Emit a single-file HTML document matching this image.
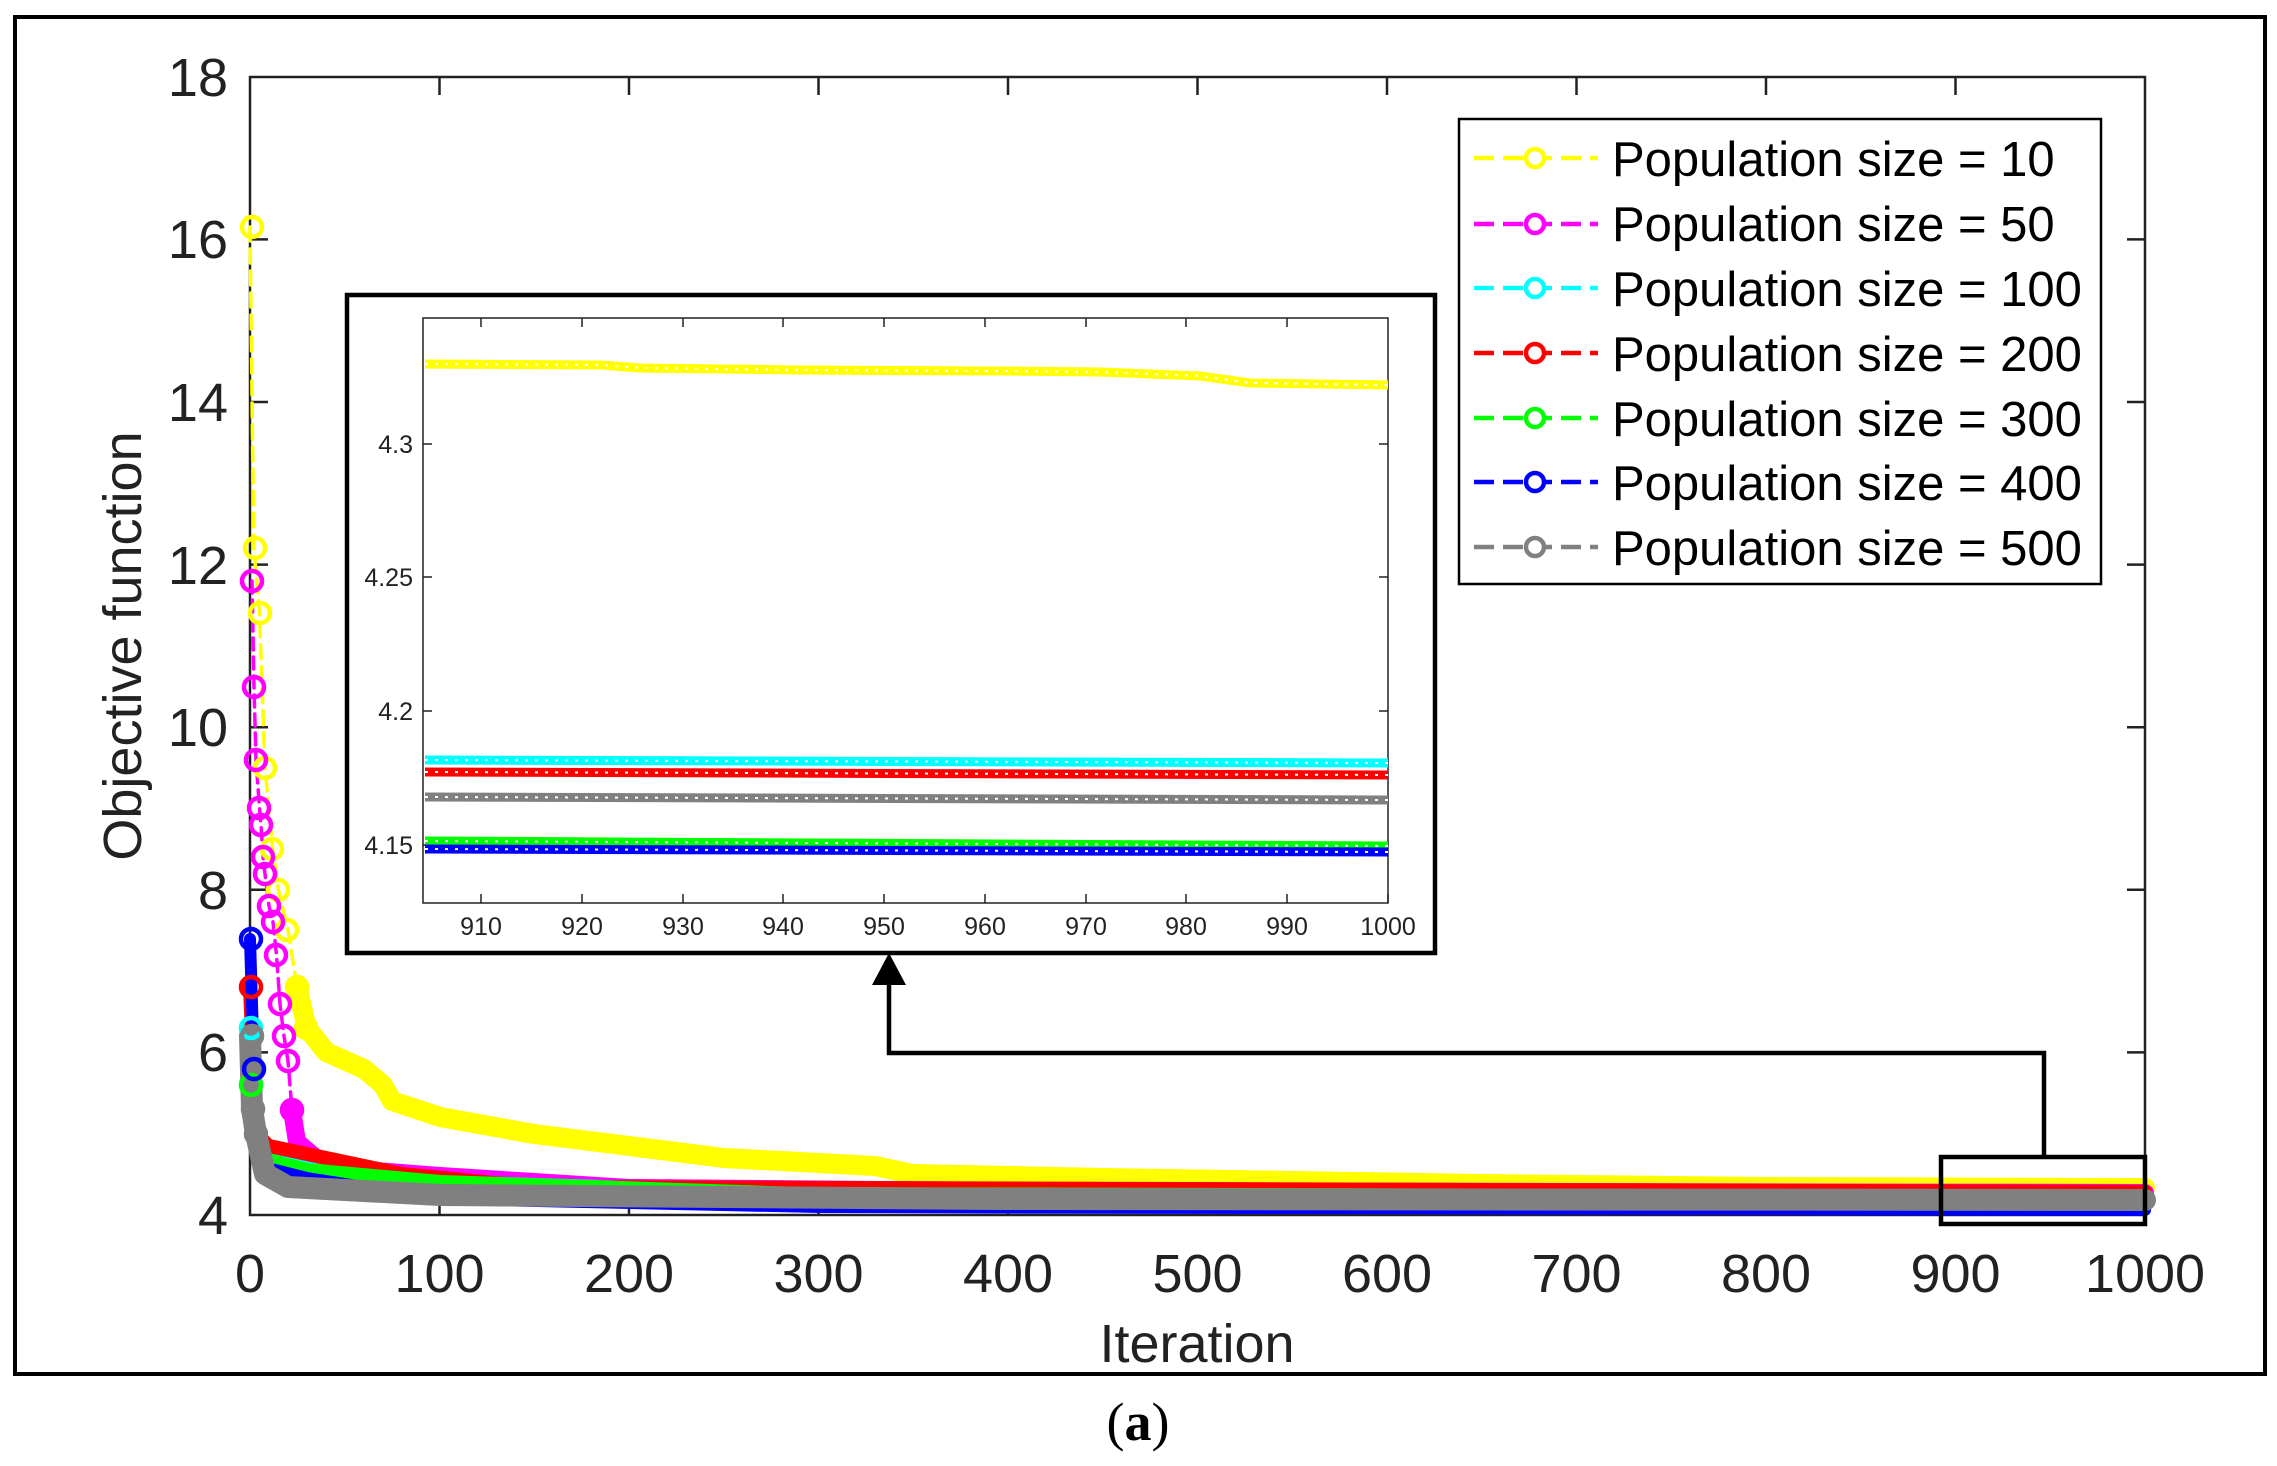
<!DOCTYPE html>
<html><head><meta charset="utf-8"><style>
html,body{margin:0;padding:0;background:#fff;}
svg{display:block;font-family:"Liberation Sans",sans-serif;}
</style></head><body>
<svg width="2277" height="1466" viewBox="0 0 2277 1466" xmlns="http://www.w3.org/2000/svg">
<rect x="0" y="0" width="2277" height="1466" fill="#fff"/>
<rect x="15" y="17" width="2250" height="1357" fill="none" stroke="#000" stroke-width="4"/>
<rect x="250" y="77" width="1895" height="1138" fill="#fff" stroke="#222" stroke-width="2.5"/>
<g stroke="#222" stroke-width="2.5">
<path d="M439.5 1215v-18M629 1215v-18M818.5 1215v-18M1008 1215v-18M1197.5 1215v-18M1387 1215v-18M1576.5 1215v-18M1766 1215v-18M1955.5 1215v-18
M439.5 77v18M629 77v18M818.5 77v18M1008 77v18M1197.5 77v18M1387 77v18M1576.5 77v18M1766 77v18M1955.5 77v18"/>
<path d="M250 1052.4h18M250 889.8h18M250 727.2h18M250 564.6h18M250 402h18M250 239.4h18
M2145 1052.4h-18M2145 889.8h-18M2145 727.2h-18M2145 564.6h-18M2145 402h-18M2145 239.4h-18"/>
</g>
<g font-size="54" fill="#222" text-anchor="end">
<text x="228" y="1234">4</text><text x="228" y="1071">6</text><text x="228" y="909">8</text>
<text x="228" y="746">10</text><text x="228" y="584">12</text><text x="228" y="421">14</text>
<text x="228" y="258">16</text><text x="228" y="96">18</text>
</g>
<g font-size="54" fill="#222" text-anchor="middle">
<text x="250" y="1292">0</text><text x="439.5" y="1292">100</text><text x="629" y="1292">200</text>
<text x="818.5" y="1292">300</text><text x="1008" y="1292">400</text><text x="1197.5" y="1292">500</text>
<text x="1387" y="1292">600</text><text x="1576.5" y="1292">700</text><text x="1766" y="1292">800</text>
<text x="1955.5" y="1292">900</text><text x="2145" y="1292">1000</text>
<text x="1197" y="1362">Iteration</text>
<text transform="translate(141,646) rotate(-90)">Objective function</text>
</g>
<text x="1138" y="1440" font-family="Liberation Serif,serif" font-size="54" text-anchor="middle" fill="#000">(<tspan font-weight="bold">a</tspan>)</text>

<g fill="none" stroke-linejoin="round" stroke-linecap="round">
<path d="M250 227L253.8 548L259.5 613L265 768L272.7 849L278.4 890L288 930L297 987" stroke="#ff0" stroke-width="3.5" stroke-dasharray="14 8"/>
<path d="M297 987L307 1028L326 1052L364 1069L383 1085L392 1101L440 1117L534 1134L629 1146L724 1158L875 1166L913 1174L1103 1178L1292 1181L1482 1184L1766 1187L2145 1188" stroke="#ff0" stroke-width="20"/>
<path d="M252 581L254 687L256 760L259.5 808L261 825L263 857L265 874L269 906L273 922L276.5 955L280 1004L284 1036L288 1061L292 1110" stroke="#f0f" stroke-width="3.5" stroke-dasharray="12 7"/>
<path d="M292 1110L297 1142L316 1158L364 1170L440 1176L534 1182L629 1188L1008 1191L2145 1193" stroke="#f0f" stroke-width="18"/>
<path d="M250 1028L259 1150L300 1165L440 1182L700 1190L2145 1193" stroke="#0ff" stroke-width="14"/>
<path d="M250 987L256 1134L269 1146L326 1158L402 1174L534 1187L2145 1192" stroke="#f00" stroke-width="14"/>
<path d="M250 1085L259 1158L307 1170L440 1182L800 1194L2145 1197" stroke="#0f0" stroke-width="14"/>
<path d="M250 939L254 1069L259 1166L307 1178L440 1199L819 1207L2145 1210" stroke="#00f" stroke-width="12"/>
<path d="M250 1036L252 1109L256 1134L265 1174L288 1187L440 1195L1000 1199L2145 1200" stroke="#808080" stroke-width="22"/>
</g>
<g fill="none" stroke-width="4.5">
<g stroke="#ff0"><circle cx="252" cy="227" r="10"/><circle cx="255" cy="548" r="10"/><circle cx="260" cy="613" r="10"/><circle cx="265" cy="768" r="10"/><circle cx="272" cy="849" r="10"/><circle cx="278" cy="890" r="10"/><circle cx="287" cy="930" r="10"/><circle cx="297" cy="987" r="10"/><circle cx="306" cy="1028" r="10"/></g>
<g stroke="#f0f"><circle cx="252" cy="581" r="10"/><circle cx="254" cy="687" r="10"/><circle cx="256" cy="760" r="10"/><circle cx="259" cy="808" r="10"/><circle cx="261" cy="825" r="10"/><circle cx="263" cy="857" r="10"/><circle cx="265" cy="874" r="10"/><circle cx="269" cy="906" r="10"/><circle cx="273" cy="922" r="10"/><circle cx="276" cy="955" r="10"/><circle cx="280" cy="1004" r="10"/><circle cx="284" cy="1036" r="10"/><circle cx="288" cy="1061" r="10"/><circle cx="292" cy="1110" r="10"/></g>
<circle cx="251" cy="1028" r="10" stroke="#0ff"/>
<circle cx="251" cy="987" r="10" stroke="#f00"/>
<circle cx="251" cy="1085" r="10" stroke="#0f0"/>
<circle cx="251" cy="939" r="10" stroke="#00f"/><circle cx="254" cy="1069" r="10" stroke="#00f"/>
<circle cx="252" cy="1036" r="10" stroke="#808080"/><circle cx="253" cy="1109" r="10" stroke="#808080"/><circle cx="256" cy="1134" r="10" stroke="#808080"/>
</g>

<rect x="1941" y="1157" width="204" height="67" fill="none" stroke="#000" stroke-width="4.5"/>
<path d="M2044 1157V1053H889V976" fill="none" stroke="#000" stroke-width="4.5"/>
<polygon points="889,953 872,985 906,985" fill="#000"/>

<rect x="347" y="295" width="1088" height="658" fill="#fff" stroke="#000" stroke-width="4.5"/>
<rect x="423" y="318" width="965" height="585" fill="#fff" stroke="#222" stroke-width="1.5"/>
<g stroke="#222" stroke-width="1.5">
<path d="M481 903v-9M582 903v-9M683 903v-9M783 903v-9M884 903v-9M985 903v-9M1086 903v-9M1186 903v-9M1287 903v-9M1388 903v-9
M481 318v9M582 318v9M683 318v9M783 318v9M884 318v9M985 318v9M1086 318v9M1186 318v9M1287 318v9
M423 444h9M423 577h9M423 711h9M423 845h9M1388 444h-9M1388 577h-9M1388 711h-9M1388 845h-9"/>
</g>
<g font-size="25" fill="#222" text-anchor="end">
<text x="413" y="453">4.3</text><text x="413" y="586">4.25</text><text x="413" y="720">4.2</text><text x="413" y="854">4.15</text>
</g>
<g font-size="25" fill="#222" text-anchor="middle">
<text x="481" y="935">910</text><text x="582" y="935">920</text><text x="683" y="935">930</text><text x="783" y="935">940</text><text x="884" y="935">950</text><text x="985" y="935">960</text><text x="1086" y="935">970</text><text x="1186" y="935">980</text><text x="1287" y="935">990</text><text x="1388" y="935">1000</text>
</g>
<g fill="none" stroke-width="9">
<path d="M425 364L600 365L640 368L800 370L1000 371L1100 372L1200 376L1250 383L1388 385" stroke="#ff0"/>
<path d="M425 760L1388 763" stroke="#0ff"/>
<path d="M425 772L1388 775" stroke="#f00"/>
<path d="M425 797L1388 800" stroke="#808080"/>
<path d="M425 841L1388 846" stroke="#0f0"/>
<path d="M425 849L1388 852" stroke="#00f"/>
</g>
<g fill="none" stroke="#fff" stroke-width="2" stroke-dasharray="3 7">
<path d="M425 364L600 365L640 368L800 370L1000 371L1100 372L1200 376L1250 383L1388 385"/>
<path d="M425 760L1388 763"/><path d="M425 772L1388 775"/><path d="M425 797L1388 800"/>
<path d="M425 841L1388 846"/><path d="M425 849L1388 852"/>
</g>

<rect x="1459" y="119" width="642" height="465" fill="#fff" stroke="#000" stroke-width="2.5"/>
<g font-size="49" fill="#000">
<text x="1612" y="176">Population size = 10</text>
<text x="1612" y="241">Population size = 50</text>
<text x="1612" y="306">Population size = 100</text>
<text x="1612" y="371">Population size = 200</text>
<text x="1612" y="436">Population size = 300</text>
<text x="1612" y="500">Population size = 400</text>
<text x="1612" y="565">Population size = 500</text>
</g>
<g fill="none" stroke-width="4.5" stroke-dasharray="20 9">
<path d="M1474 158H1598" stroke="#ff0"/><path d="M1474 224H1598" stroke="#f0f"/><path d="M1474 288H1598" stroke="#0ff"/>
<path d="M1474 353H1598" stroke="#f00"/><path d="M1474 418H1598" stroke="#0f0"/><path d="M1474 482H1598" stroke="#00f"/>
<path d="M1474 547H1598" stroke="#808080"/>
</g>
<g fill="#fff" stroke-width="4.5">
<circle cx="1535" cy="158" r="9" stroke="#ff0"/><circle cx="1535" cy="224" r="9" stroke="#f0f"/><circle cx="1535" cy="288" r="9" stroke="#0ff"/>
<circle cx="1535" cy="353" r="9" stroke="#f00"/><circle cx="1535" cy="418" r="9" stroke="#0f0"/><circle cx="1535" cy="482" r="9" stroke="#00f"/>
<circle cx="1535" cy="547" r="9" stroke="#808080"/>
</g>
</svg>
</body></html>
